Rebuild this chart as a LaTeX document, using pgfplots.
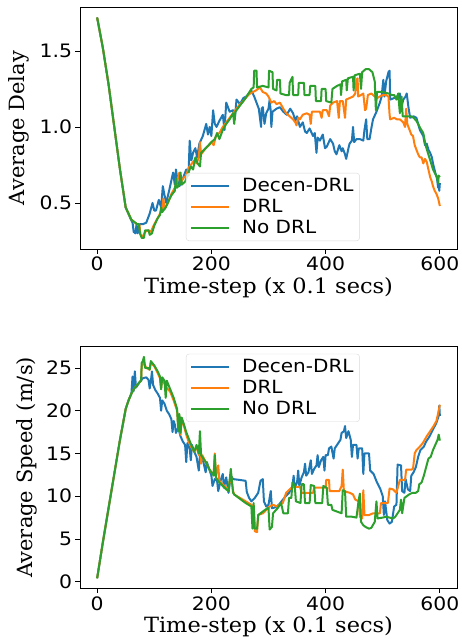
\documentclass[border=0pt]{standalone}
\usepackage{fontspec}
\setmainfont[FakeStretch=1.1]{DejaVu Sans}
\newfontfamily\xlabelfont[FakeStretch=1.07]{DejaVu Serif}
\newfontfamily\ylabelfont{DejaVu Serif}
\usepackage{pgfplots}
\pgfplotsset{compat=1.18}
\definecolor{mblue}{HTML}{1F77B4}
\definecolor{morange}{HTML}{FF7F0E}
\definecolor{mgreen}{HTML}{2CA02C}
\pgfplotsset{
  mpl/.style={
    scale only axis, width=377pt, height=242pt,
    xmin=-30, xmax=630, xtick={0,200,400,600},
    tick align=outside, xtick pos=bottom, ytick pos=left,
    major tick length=4.5pt,
    every tick/.style={black, line width=0.8pt},
    axis line style={line width=0.8pt},
    ticklabel style={font=\fontsize{18.5}{18.5}\selectfont},
    /pgf/number format/assume math mode=true,
    xlabel style={font=\xlabelfont\fontsize{21}{21}\selectfont},
    ylabel style={font=\ylabelfont\fontsize{21}{21}\selectfont},
    xlabel={Time-step (x 0.1 secs)},
    legend cell align=left,
    legend image code/.code={\draw[#1] (0pt,0pt) -- (38pt,0pt);},
    legend style={draw=black!15, rounded corners=3pt, fill=white, fill opacity=0.8,
      text opacity=1, font=\fontsize{18.2}{18.2}\selectfont,
      inner xsep=4pt, inner ysep=3.5pt, row sep=2.2pt,
      nodes={inner sep=2pt},
      /tikz/every odd column/.append style={column sep=10pt}},
    every axis plot/.append style={line width=2pt, line join=round, mark=none},
  }
}
\begin{document}
\begin{tikzpicture}
\useasboundingbox (-80pt,-52.7pt) rectangle (382pt,588.3pt);
% ---------- Average delay ----------
\begin{axis}[mpl, at={(0pt,339.3pt)}, anchor=south west,
  ymin=0.197, ymax=1.789, ytick={0.5,1.0,1.5},
  yticklabel style={/pgf/number format/.cd, fixed, fixed zerofill, precision=1},
  ylabel={Average Delay},
  x label style={at={(axis description cs:0.5,-0.161)}, anchor=center},
  y label style={at={(axis description cs:-0.162,0.5)}, anchor=center},
  legend style={at={(0.281,0.033)}, anchor=south west}]
\addplot[mblue] coordinates {
(0,1.72)(10,1.52)(20,1.28)(30,1.0)(40,0.72)(50,0.47)(58,0.40)(62,0.37)(64,0.31)(67,0.30)(69,0.36)(71,0.30)(74,0.36)
(80,0.36)(86,0.37)(92,0.43)(97,0.50)(100,0.45)(103,0.45)(108,0.52)(112,0.47)(115,0.61)(118,0.55)(121,0.50)(126,0.58)
(133,0.70)(136,0.62)(138,0.72)(141,0.64)(144,0.61)(150,0.66)(156,0.72)(160,0.68)(162,0.91)(165,0.78)(168,0.83)(172,0.86)
(175,0.80)(179,0.89)(185,0.94)(191,1.02)(194,0.95)(197,1.00)(200,0.94)(203,1.11)(206,1.02)(209,1.00)(214,1.04)(220,1.08)
(223,0.98)(226,1.16)(232,1.10)(238,1.11)(241,1.05)(244,1.18)(250,1.15)(256,1.19)(261,1.20)(266,1.22)(270,1.24)(275,1.20)
(279,1.16)(283,1.12)(287,1.00)(288,1.12)(290,1.13)(293,1.02)(296,1.09)(300,1.12)(302,1.18)(304,1.10)(305,1.00)(307,1.10)
(314,1.12)(320,1.13)(326,1.10)(332,1.08)(338,1.12)(343,1.09)(347,1.04)(350,1.07)(355,1.00)(360,1.03)(364,0.97)(367,0.96)
(372,0.99)(378,0.94)(381,0.96)(384,0.83)(386,0.93)(390,0.91)(395,0.95)(399,0.86)(402,0.87)(408,0.92)(413,0.89)(416,0.84)
(419,0.82)(424,0.88)(428,0.84)(430,0.86)(434,0.82)(436,0.79)(440,0.86)(442,0.89)(446,0.91)(448,1.00)(450,0.90)(454,0.92)
(460,0.92)(466,0.91)(468,0.98)(471,1.05)(473,0.92)(477,0.92)(480,0.99)(483,1.05)(489,1.10)(495,1.16)(498,1.20)(501,1.31)
(503,1.20)(506,1.30)(510,1.36)(512,1.37)(513,1.18)(520,1.19)(525,1.20)(530,1.22)(532,1.12)(536,1.18)(540,1.20)(542,1.22)
(545,1.13)(548,1.06)(554,1.07)(559,1.06)(565,0.98)(571,0.94)(574,0.88)(577,0.89)(580,0.85)(583,0.83)(586,0.80)(588,0.76)
(592,0.70)(595,0.66)(597,0.60)(598,0.63)(599,0.58)(600,0.63)};
\addlegendentry{Decen-DRL}
\addplot[morange] coordinates {
(0,1.72)(10,1.52)(20,1.28)(30,1.0)(40,0.72)(50,0.47)(60,0.39)(70,0.36)(74,0.36)(76,0.29)(80,0.28)(84,0.31)(90,0.32)
(94,0.31)(100,0.36)(106,0.40)(110,0.43)(114,0.46)(116,0.53)(118,0.46)(124,0.50)(130,0.56)(136,0.60)(140,0.64)(144,0.70)
(146,0.63)(150,0.66)(156,0.68)(160,0.73)(166,0.76)(170,0.78)(174,0.76)(178,0.80)(180,0.90)(182,0.82)(190,0.86)(196,0.88)
(200,0.90)(204,0.88)(208,0.94)(214,0.96)(220,1.00)(226,1.03)(232,1.06)(238,1.09)(244,1.12)(250,1.15)(256,1.17)(262,1.20)
(268,1.22)(273,1.23)(278,1.24)(285,1.26)(290,1.23)(296,1.22)(300,1.20)(305,1.16)(310,1.17)(314,1.15)(320,1.16)(326,1.12)
(331,1.09)(337,1.07)(343,1.05)(347,1.03)(349,1.01)(352,1.06)(355,1.05)(360,1.08)(367,1.09)(372,1.08)(374,1.02)(376,1.10)
(384,1.10)(390,1.10)(393,1.06)(395,1.11)(402,1.11)(406,1.07)(408,1.14)(413,1.16)(420,1.17)(423,1.06)(425,1.17)(430,1.17)
(434,1.06)(436,1.18)(442,1.19)(448,1.20)(452,1.22)(454,1.31)(456,1.32)(457,1.20)(462,1.21)(466,1.22)(469,1.11)(471,1.12)
(474,1.21)(480,1.22)(486,1.20)(490,1.19)(495,1.20)(500,1.21)(506,1.21)(510,1.20)(512,1.08)(513,1.05)(520,1.06)(525,1.05)
(530,1.05)(536,1.03)(539,1.00)(541,1.12)(543,1.02)(546,0.99)(550,0.95)(553,0.94)(556,0.88)(559,0.85)(562,0.82)(565,0.80)
(568,0.80)(571,0.76)(574,0.79)(577,0.77)(580,0.72)(583,0.67)(586,0.64)(588,0.61)(591,0.58)(594,0.56)(597,0.53)(600,0.48)};
\addlegendentry{DRL}
\addplot[mgreen] coordinates {
(0,1.72)(10,1.52)(20,1.28)(30,1.0)(40,0.72)(50,0.47)(60,0.39)(70,0.36)(73,0.36)(75,0.30)(78,0.27)(82,0.27)(84,0.32)(90,0.32)
(92,0.29)(96,0.30)(100,0.35)(106,0.40)(110,0.42)(112,0.47)(114,0.44)(120,0.47)(126,0.52)(130,0.55)(136,0.58)(138,0.66)
(140,0.60)(144,0.62)(146,0.70)(148,0.62)(154,0.64)(160,0.70)(164,0.74)(168,0.72)(172,0.80)(176,0.76)(180,0.74)(182,0.83)
(190,0.86)(200,0.90)(206,0.92)(210,0.96)(214,0.92)(220,0.98)(226,1.02)(232,1.05)(238,1.09)(240,1.02)(242,1.10)(250,1.14)
(260,1.19)(270,1.25)(274,1.26)(275,1.37)(279,1.37)(280,1.26)(290,1.27)(300,1.26)(301,1.37)(307,1.36)(308,1.25)(314,1.24)
(315,1.31)(320,1.31)(321,1.22)(330,1.21)(336,1.21)(337,1.29)(342,1.33)(343,1.21)(352,1.21)(353,1.29)(362,1.29)(363,1.21)
(372,1.21)(373,1.27)(382,1.27)(383,1.17)(392,1.17)(393,1.25)(400,1.25)(401,1.17)(410,1.16)(412,1.25)(420,1.27)(426,1.28)
(427,1.21)(429,1.30)(436,1.31)(437,1.24)(439,1.32)(448,1.33)(449,1.24)(451,1.34)(460,1.35)(462,1.25)(464,1.36)(470,1.38)
(476,1.38)(482,1.36)(486,1.30)(488,1.11)(490,1.23)(500,1.23)(510,1.22)(516,1.21)(520,1.21)(524,1.18)(527,1.22)(530,1.09)
(533,1.20)(535,1.07)(544,1.07)(550,1.07)(554,1.06)(559,1.04)(562,1.02)(566,0.99)(571,0.96)(575,0.88)(579,0.83)(584,0.77)
(588,0.72)(592,0.69)(595,0.67)(597,0.63)(598,0.68)(600,0.67)};
\addlegendentry{No DRL}
\end{axis}
% ---------- Average speed ----------
\begin{axis}[mpl, at={(0pt,0pt)}, anchor=south west,
  ymin=-0.77, ymax=27.53, ytick={0,5,10,15,20,25},
  ylabel={Average Speed (m/s)},
  x label style={at={(axis description cs:0.5,-0.159)}, anchor=center},
  y label style={at={(axis description cs:-0.14,0.5)}, anchor=center},
  legend style={at={(0.281,0.969)}, anchor=north west}]
\addplot[mblue] coordinates {
(0,0.4)(10,4.6)(20,8.6)(30,12.6)(40,16.6)(50,20.2)(56,21.4)(60,22.0)(62,24.0)(64,22.3)(66,24.6)(68,22.7)(74,23.3)(80,23.8)
(86,23.9)(90,23.6)(92,22.6)(94,23.4)(96,24.6)(98,23.0)(102,22.4)(106,22.0)(110,21.5)(112,20.0)(114,21.2)(118,20.8)(122,20.0)
(126,19.6)(130,19.0)(132,17.5)(134,18.8)(136,18.4)(138,17.4)(142,18.0)(146,17.0)(150,16.4)(154,16.0)(156,14.0)(158,16.2)
(162,15.6)(164,14.2)(166,16.0)(170,15.2)(174,14.6)(178,13.0)(180,14.8)(186,14.0)(190,12.8)(192,14.0)(196,13.2)(200,12.4)
(202,11.2)(206,12.0)(210,11.8)(212,10.6)(216,11.8)(220,12.6)(222,11.0)(226,12.2)(230,10.4)(234,12.4)(238,12.0)(250,11.9)
(260,11.8)(262,10.5)(266,9.8)(270,9.4)(276,9.8)(282,10.4)(286,11.8)(290,12.0)(292,9.4)(296,8.8)(300,9.0)(304,10.6)(306,8.6)
(312,8.7)(318,9.0)(324,9.5)(330,10.0)(336,10.4)(342,11.2)(344,12.4)(346,11.0)(350,11.6)(352,13.0)(354,11.2)(358,12.2)
(362,12.8)(364,13.8)(366,12.4)(370,12.8)(374,14.2)(376,12.6)(380,13.2)(384,13.6)(386,14.8)(388,13.4)(392,14.2)(396,14.6)
(398,13.0)(400,14.8)(404,14.8)(406,15.6)(410,15.8)(414,14.4)(416,15.6)(420,16.0)(426,16.6)(428,17.4)(432,17.6)(434,18.2)
(436,16.8)(440,17.6)(444,16.6)(446,14.6)(448,16.0)(454,16.0)(456,14.4)(458,15.6)(464,15.6)(466,12.6)(468,15.0)(476,15.0)
(478,13.0)(484,12.6)(490,11.6)(496,10.8)(500,10.0)(502,7.8)(504,9.4)(508,7.2)(512,6.8)(516,7.0)(520,8.8)(524,9.0)(526,13.7)
(532,13.6)(534,10.6)(538,10.4)(540,12.0)(544,10.8)(548,10.6)(550,12.4)(554,12.8)(558,13.4)(562,14.6)(566,15.4)(572,15.8)
(576,16.4)(582,17.0)(588,17.8)(594,18.6)(598,19.4)(599,20.6)(600,19.4)};
\addlegendentry{Decen-DRL}
\addplot[morange] coordinates {
(0,0.4)(10,4.6)(20,8.6)(30,12.6)(40,16.6)(50,20.2)(55,21.2)(60,22.0)(65,22.6)(70,23.0)(75,23.4)(77,23.5)(78,25.2)(82,25.6)
(86,25.0)(92,24.8)(94,25.6)(100,25.2)(106,24.4)(110,23.8)(112,22.6)(114,23.8)(120,22.8)(128,22.2)(134,21.2)(140,20.0)
(142,18.0)(144,19.4)(146,17.2)(148,19.0)(152,18.2)(156,17.2)(160,16.4)(166,15.6)(170,15.2)(174,15.8)(178,14.8)(180,15.6)
(182,13.8)(184,14.8)(190,14.0)(196,13.2)(200,12.8)(204,12.6)(206,15.0)(208,12.4)(212,13.6)(214,11.8)(220,11.4)(226,11.0)
(230,10.8)(234,12.6)(238,10.6)(240,10.2)(250,9.8)(260,9.4)(270,9.0)(274,8.8)(276,5.9)(280,5.8)(282,7.8)(290,8.0)(296,8.4)
(302,8.8)(308,9.0)(314,8.8)(320,9.0)(325,9.2)(331,10.4)(337,10.8)(343,11.1)(350,11.1)(355,11.1)(358,10.4)(372,10.4)
(378,10.4)(380,11.0)(392,11.0)(400,11.0)(401,11.9)(406,11.9)(407,10.6)(424,10.6)(428,11.2)(430,13.1)(432,10.6)(442,10.4)
(448,10.2)(452,9.6)(458,9.4)(460,7.6)(464,7.4)(466,10.7)(468,7.8)(476,7.8)(483,8.0)(490,8.0)(495,8.0)(497,9.2)(509,9.2)
(512,10.9)(518,10.8)(524,10.4)(528,11.4)(530,11.9)(539,11.9)(541,13.1)(550,13.1)(553,13.2)(556,15.0)(559,15.4)(565,15.8)
(570,16.2)(577,17.0)(583,17.6)(589,18.2)(594,18.8)(597,19.7)(600,20.7)};
\addlegendentry{DRL}
\addplot[mgreen] coordinates {
(0,0.4)(10,4.6)(20,8.6)(30,12.6)(40,16.6)(50,20.2)(55,21.2)(60,22.0)(65,22.6)(70,23.0)(75,23.4)(77,23.5)(78,25.6)(80,25.8)
(82,26.3)(84,25.0)(90,25.0)(92,24.8)(94,25.8)(100,25.3)(106,24.6)(110,24.0)(112,22.5)(114,23.9)(118,23.5)(120,21.5)
(122,23.5)(128,22.5)(134,21.5)(140,20.2)(142,17.6)(144,19.6)(146,17.4)(148,19.2)(152,18.4)(156,17.5)(160,16.8)(166,15.8)
(170,15.2)(174,16.0)(178,15.0)(180,17.6)(182,14.8)(190,14.0)(196,13.2)(200,12.8)(204,12.4)(206,14.8)(208,12.2)(214,11.6)
(220,11.2)(226,10.8)(230,10.6)(234,13.2)(238,10.4)(240,10.2)(250,9.7)(260,9.2)(270,8.8)(272,6.2)(274,9.2)(276,6.2)(280,6.2)
(282,7.8)(290,8.2)(298,8.6)(300,8.6)(302,6.1)(306,6.4)(308,8.0)(316,8.6)(322,9.2)(326,8.0)(334,8.0)(336,9.8)(340,9.8)
(342,11.6)(346,11.2)(348,9.4)(356,9.2)(358,11.4)(362,11.4)(364,9.2)(372,9.2)(374,11.3)(380,11.2)(382,9.2)(394,9.2)(396,11.2)
(402,11.0)(404,9.0)(410,9.0)(412,8.4)(420,8.2)(428,8.0)(430,10.7)(434,10.6)(436,7.6)(446,7.6)(454,7.5)(458,9.6)(460,10.3)
(462,7.0)(466,6.6)(470,6.4)(476,6.2)(480,6.3)(486,7.0)(489,9.4)(491,7.4)(500,7.5)(506,7.6)(512,7.5)(518,7.4)(522,7.6)
(526,8.0)(530,8.4)(532,9.6)(534,8.0)(538,9.8)(546,10.2)(552,10.4)(558,10.4)(562,10.6)(564,11.4)(568,11.6)(572,12.4)
(576,13.4)(580,14.4)(584,14.6)(588,15.4)(592,16.0)(596,16.6)(598,17.2)(600,16.5)};
\addlegendentry{No DRL}
\end{axis}
\end{tikzpicture}
\end{document}
